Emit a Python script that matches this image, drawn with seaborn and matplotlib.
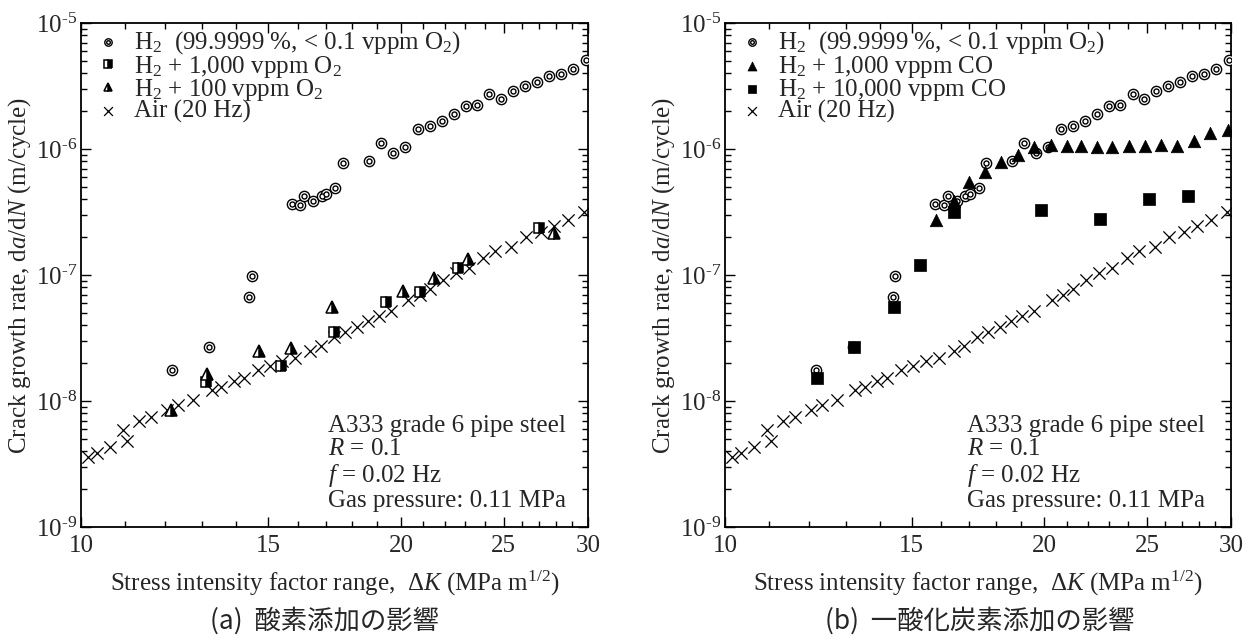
import numpy as np
import pandas as pd
import matplotlib
matplotlib.use("Agg")
import matplotlib.pyplot as plt
import matplotlib.ticker as mticker
import seaborn as sns

# ---------------- data ----------------
h2_x = [12.18, 13.21, 14.39, 14.47, 15.78, 16.09, 16.23, 16.55, 16.84, 17.01, 17.34,
        17.64, 18.65, 19.15, 19.65, 20.16, 20.75, 21.29, 21.85, 22.42, 23.02, 23.60,
        24.23, 24.85, 25.49, 26.16, 26.84, 27.56, 28.28, 29.01, 29.85]
h2_y = [1.77e-8, 2.69e-8, 6.65e-8, 9.8e-8, 3.69e-7, 3.62e-7, 4.22e-7, 3.85e-7, 4.22e-7,
        4.43e-7, 4.91e-7, 7.75e-7, 7.99e-7, 1.11e-6, 9.24e-7, 1.04e-6, 1.44e-6, 1.51e-6,
        1.66e-6, 1.90e-6, 2.19e-6, 2.22e-6, 2.71e-6, 2.50e-6, 2.91e-6, 3.19e-6, 3.43e-6,
        3.83e-6, 3.95e-6, 4.32e-6, 5.12e-6]

o2_1000_x = [13.10, 15.42, 17.30, 19.35, 20.86, 22.62, 26.95]
o2_1000_y = [1.42e-8, 1.90e-8, 3.53e-8, 6.08e-8, 7.38e-8, 1.13e-7, 2.37e-7]

o2_100_x = [12.15, 13.13, 14.71, 15.75, 17.23, 20.11, 21.48, 23.12, 27.85]
o2_100_y = [8.54e-9, 1.65e-8, 2.48e-8, 2.65e-8, 5.61e-8, 7.47e-8, 9.42e-8, 1.34e-7, 2.14e-7]

co_1000_x = [15.80, 16.44, 16.99, 17.59, 18.20, 18.89, 19.58, 20.29, 21.00, 21.68, 22.43,
             23.18, 24.03, 24.87, 25.78, 26.71, 27.69, 28.67, 29.78]
co_1000_y = [2.72e-7, 3.84e-7, 5.45e-7, 6.55e-7, 7.94e-7, 8.97e-7, 1.03e-6, 1.08e-6, 1.06e-6,
             1.05e-6, 1.03e-6, 1.03e-6, 1.05e-6, 1.06e-6, 1.08e-6, 1.06e-6, 1.16e-6, 1.33e-6,
             1.41e-6]

co_10000_x = [12.20, 13.24, 14.42, 15.27, 16.45, 19.85, 22.57, 25.13, 27.33]
co_10000_y = [1.51e-8, 2.67e-8, 5.56e-8, 1.20e-7, 3.18e-7, 3.30e-7, 2.80e-7, 4.03e-7, 4.22e-7]

air_x = [10.15, 10.35, 10.66, 10.95, 11.05, 11.35, 11.64, 12.04, 12.35, 12.74, 13.27, 13.55,
         13.92, 14.23, 14.66, 15.05, 15.47, 15.90, 16.44, 16.82, 17.30, 17.71, 18.17, 18.62,
         19.07, 19.58, 20.32, 20.84, 21.28, 21.90, 22.54, 23.18, 23.92, 24.55, 25.41, 26.23,
         27.10, 27.86, 28.73, 29.74]
air_y = [3.6e-9, 3.9e-9, 4.3e-9, 5.9e-9, 4.8e-9, 6.9e-9, 7.5e-9, 8.5e-9, 9.3e-9, 1.02e-8,
         1.22e-8, 1.30e-8, 1.44e-8, 1.53e-8, 1.77e-8, 1.90e-8, 2.08e-8, 2.21e-8, 2.49e-8,
         2.73e-8, 3.2e-8, 3.5e-8, 3.85e-8, 4.35e-8, 4.7e-8, 5.2e-8, 6.3e-8, 7.0e-8, 7.8e-8,
         9.2e-8, 1.03e-7, 1.13e-7, 1.36e-7, 1.55e-7, 1.68e-7, 2.01e-7, 2.20e-7, 2.45e-7,
         2.72e-7, 3.16e-7]

x_major = [10, 15, 20, 25, 30]
x_labels = ["10", "15", "20", "25", "30"]
lab_h2 = "H$_2$  (99.9999 %, < 0.1 vppm O$_2$)"
lab_o2_1000 = "H$_2$ + 1,000 vppm O$_2$"
lab_o2_100 = "H$_2$ + 100 vppm O$_2$"
lab_co_1000 = "H$_2$ + 1,000 vppm CO"
lab_co_10000 = "H$_2$ + 10,000 vppm CO"
lab_air = "Air (20 Hz)"
note = "A333 grade 6 pipe steel\n$R$ = 0.1\n$f$ = 0.02 Hz\nGas pressure: 0.11 MPa"
xlabel = "Stress intensity factor range,  \u0394$K$ (MPa m$^{1/2}$)"
ylabel = "Crack growth rate, d$a$/d$N$ (m/cycle)"
title_a = "(a)  酸素添加の影響"
title_b = "(b)  一酸化炭素添加の影響"

# ---------------- style ----------------
sns.set_theme(style="ticks")
plt.rcParams["font.family"] = ["Liberation Serif", "DejaVu Serif"]
plt.rcParams["mathtext.fontset"] = "custom"
plt.rcParams["mathtext.rm"] = "Liberation Serif"
plt.rcParams["mathtext.it"] = "Liberation Serif:italic"
plt.rcParams["mathtext.bf"] = "Liberation Serif:bold"

FS = 18
W, H = 1251, 642
fig = plt.figure(figsize=(W / 100, H / 100), dpi=100)
ax1 = fig.add_axes([81 / W, 1 - 527 / H, 507 / W, 504 / H])
ax2 = fig.add_axes([725 / W, 1 - 527 / H, 506 / W, 504 / H])


def ylab(v, p):
    e = int(round(np.log10(v)))
    return "10$^{\u2010%d}$" % abs(e) if e < 0 else "10$^{%d}$" % e


def setup(ax):
    ax.set_xscale("log")
    ax.set_yscale("log")
    ax.set_xlim(10, 30)
    ax.set_ylim(1e-9, 1e-5)
    ax.xaxis.set_major_locator(mticker.FixedLocator(x_major))
    ax.xaxis.set_major_formatter(mticker.FixedFormatter(x_labels))
    ax.xaxis.set_minor_locator(mticker.FixedLocator([v for v in range(11, 30) if v not in x_major]))
    ax.xaxis.set_minor_formatter(mticker.NullFormatter())
    ax.yaxis.set_major_locator(mticker.LogLocator(base=10, numticks=10))
    ax.yaxis.set_minor_locator(mticker.LogLocator(base=10, subs=np.arange(2, 10), numticks=20))
    ax.yaxis.set_minor_formatter(mticker.NullFormatter())
    ax.yaxis.set_major_formatter(mticker.FuncFormatter(ylab))
    ax.tick_params(which="both", direction="in", top=True, right=True, color="black")
    ax.tick_params(which="major", length=7, width=1.0, labelsize=FS, pad=6)
    ax.tick_params(which="minor", length=4, width=1.0)
    ax.tick_params(axis="y", which="major", pad=3)
    for s in ax.spines.values():
        s.set_linewidth(1.3)
        s.set_color("black")
        s.set_visible(True)
    ax.grid(False)
    ax.set_facecolor("white")


def plot_h2(ax):
    df = pd.DataFrame({"dK": h2_x, "rate": h2_y})
    sns.scatterplot(data=df, x="dK", y="rate", ax=ax, marker="o", s=7.4 ** 2,
                    facecolor="white", edgecolor="black", linewidth=1.0, zorder=4)
    a = ax.collections[-1]
    sns.scatterplot(data=df, x="dK", y="rate", ax=ax, marker="o", s=3.6 ** 2,
                    facecolor="white", edgecolor="black", linewidth=1.0, zorder=5)
    b = ax.collections[-1]
    return (a, b)


def plot_air(ax):
    df = pd.DataFrame({"dK": air_x, "rate": air_y})
    sns.scatterplot(data=df, x="dK", y="rate", ax=ax, marker="x", s=8.8 ** 2,
                    color="black", linewidth=0.9, zorder=3)
    return ax.collections[-1]


def labels(ax):
    ax.set_xlabel(xlabel, fontsize=FS, labelpad=8)
    ax.set_ylabel(ylabel, fontsize=FS, labelpad=2)


LEG = dict(loc="upper left", bbox_to_anchor=(0.004, 1.012), frameon=False,
           fontsize=FS, handlelength=1.0, handletextpad=0.55, labelspacing=-0.11,
           borderpad=0.0, markerscale=0.72)

# ---- panel (a)
setup(ax1)
h_air1 = plot_air(ax1)
h_sq, = ax1.plot(o2_1000_x, o2_1000_y, ls="none", marker="s", ms=7.6, fillstyle="right",
                 markerfacecolor="black", markerfacecoloralt="white", markeredgecolor="black",
                 markeredgewidth=1.1, zorder=6)
h_tr, = ax1.plot(o2_100_x, o2_100_y, ls="none", marker="^", ms=8.2, fillstyle="right",
                 markerfacecolor="black", markerfacecoloralt="white", markeredgecolor="black",
                 markeredgewidth=1.1, zorder=6)
h_h2a = plot_h2(ax1)
labels(ax1)
ax1.legend([h_h2a, h_sq, h_tr, h_air1], [lab_h2, lab_o2_1000, lab_o2_100, lab_air], **LEG)
ax1.text(0.487, 0.03, note, transform=ax1.transAxes, fontsize=FS, ha="left", va="bottom",
         linespacing=1.08)

# ---- panel (b)
setup(ax2)
h_air2 = plot_air(ax2)
df_c1 = pd.DataFrame({"dK": co_1000_x, "rate": co_1000_y})
sns.scatterplot(data=df_c1, x="dK", y="rate", ax=ax2, marker="^", s=9.0 ** 2,
                color="black", edgecolor="black", linewidth=0.5, zorder=6)
h_c1 = ax2.collections[-1]
df_c2 = pd.DataFrame({"dK": co_10000_x, "rate": co_10000_y})
sns.scatterplot(data=df_c2, x="dK", y="rate", ax=ax2, marker="s", s=8.2 ** 2,
                color="black", edgecolor="black", linewidth=0.5, zorder=6)
h_c2 = ax2.collections[-1]
h_h2b = plot_h2(ax2)
labels(ax2)
ax2.legend([h_h2b, h_c1, h_c2, h_air2], [lab_h2, lab_co_1000, lab_co_10000, lab_air], **LEG)
ax2.text(0.478, 0.03, note, transform=ax2.transAxes, fontsize=FS, ha="left", va="bottom",
         linespacing=1.08)

# ---- subtitles
cjk = ["Noto Sans CJK JP", "DejaVu Sans"]
fig.text(325 / W, 1 - 621 / H, title_a, family=cjk, fontsize=19, ha="center", va="center")
fig.text(980 / W, 1 - 621 / H, title_b, family=cjk, fontsize=19, ha="center", va="center")

fig.savefig("out.png", dpi=100, facecolor="white")
